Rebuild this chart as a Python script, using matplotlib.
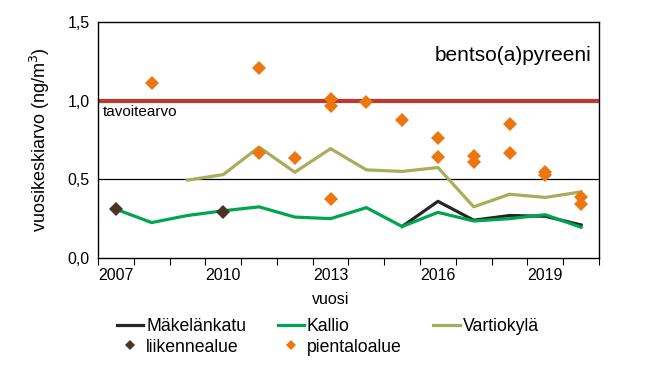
import matplotlib.pyplot as plt
from matplotlib.lines import Line2D
import numpy as np

plt.rcParams['font.family'] = ['Liberation Sans', 'DejaVu Sans']

years = list(range(2007, 2021))

# annual means, ng/m3 (None = no measurement)
makelankatu = [None, None, None, None, None, None, None, None,
               0.20, 0.36, 0.24, 0.27, 0.265, 0.21]
kallio = [0.31, 0.225, 0.27, 0.30, 0.325, 0.26, 0.25, 0.32,
          0.20, 0.29, 0.235, 0.25, 0.275, 0.195]
vartiokyla = [None, None, 0.495, 0.53, 0.705, 0.545, 0.695, 0.56,
              0.55, 0.575, 0.325, 0.405, 0.385, 0.42]

liikenne_years = [2007, 2010]
liikenne_vals = [0.31, 0.29]

pientalo_years = [2008, 2011, 2011, 2012, 2013, 2013, 2013, 2014, 2015,
                  2016, 2016, 2017, 2017, 2018, 2018, 2019, 2019, 2020, 2020]
pientalo_vals = [1.11, 1.205, 0.665, 0.635, 1.01, 0.965, 0.375, 0.99, 0.88,
                 0.765, 0.64, 0.65, 0.61, 0.85, 0.67, 0.545, 0.525, 0.39, 0.345]

target_value = 1.0
yticks = [0.0, 0.5, 1.0, 1.5]


def to_arr(vals):
    return np.array([np.nan if v is None else v for v in vals], dtype=float)


def xpos(yrs):
    return [years.index(y) for y in yrs]


fig = plt.figure(figsize=(6.46, 3.72), dpi=100)
ax = fig.add_axes([0.1517, 0.3065, 0.7755, 0.6344])

x = np.arange(len(years))
ax.axhline(0.5, color='black', lw=0.9, zorder=1)
ax.axhline(target_value, color='#c0392e', lw=3, zorder=2)

ax.plot(x, to_arr(makelankatu), color='#262626', lw=2.3, zorder=3)
ax.plot(x, to_arr(kallio), color='#00a550', lw=2.3, zorder=4)
ax.plot(x, to_arr(vartiokyla), color='#a8ad5a', lw=2.3, zorder=3)
ax.plot(xpos(liikenne_years), liikenne_vals, ls='none', marker='D', ms=7.2,
        mew=0, color='#4b3326', zorder=5)
ax.plot(xpos(pientalo_years), pientalo_vals, ls='none', marker='D', ms=7.2,
        mew=0, color='#ec7711', zorder=5)

ax.set_xlim(-0.5, len(years) - 0.5)
ax.set_ylim(0, 1.5)
ax.set_yticks(yticks)
ax.set_yticklabels([f"{v:.1f}".replace('.', ',') for v in yticks], fontsize=11.5)
ax.tick_params(axis='y', length=0, pad=6)

ax.set_xticks(np.arange(len(years) + 1) - 0.5)
ax.set_xticklabels([])
ax.set_xticks(x[::3], minor=True)
ax.set_xticklabels([str(y) for y in years[::3]], minor=True, fontsize=11.5)
ax.tick_params(axis='x', which='major', length=5, direction='out')
ax.tick_params(axis='x', which='minor', length=0, pad=7)

ax.set_xlabel('vuosi', fontsize=11.5, labelpad=1)
ax.xaxis.set_label_coords(6, -0.145, transform=ax.get_xaxis_transform())
ax.set_ylabel('vuosikeskiarvo (ng/m$^3$)', fontsize=13, labelpad=11)

for s in ax.spines.values():
    s.set_linewidth(1.0)

ax.text(0.985, 0.86, 'bentso(a)pyreeni', transform=ax.transAxes,
        ha='right', va='center', fontsize=15)
ax.text(0.01, target_value - 0.03, 'tavoitearvo', transform=ax.get_yaxis_transform(),
        ha='left', va='top', fontsize=11)

handles = [
    Line2D([], [], color='#262626', lw=2.3),
    Line2D([], [], ls='none', marker='D', ms=5.5, mew=0, color='#4b3326'),
    Line2D([], [], color='#00a550', lw=2.3),
    Line2D([], [], ls='none', marker='D', ms=5.5, mew=0, color='#ec7711'),
    Line2D([], [], color='#a8ad5a', lw=2.3),
]
labels = ['Mäkelänkatu', 'liikennealue', 'Kallio', 'pientaloalue', 'Vartiokylä']
fig.legend(handles, labels, ncol=3, loc='upper left', bbox_to_anchor=(0.181, 0.145),
           frameon=False, fontsize=12.7, handlelength=1.5, handletextpad=0.15,
           columnspacing=1.8, labelspacing=0.2, borderpad=0, borderaxespad=0)

fig.savefig('out.png', dpi=100)
